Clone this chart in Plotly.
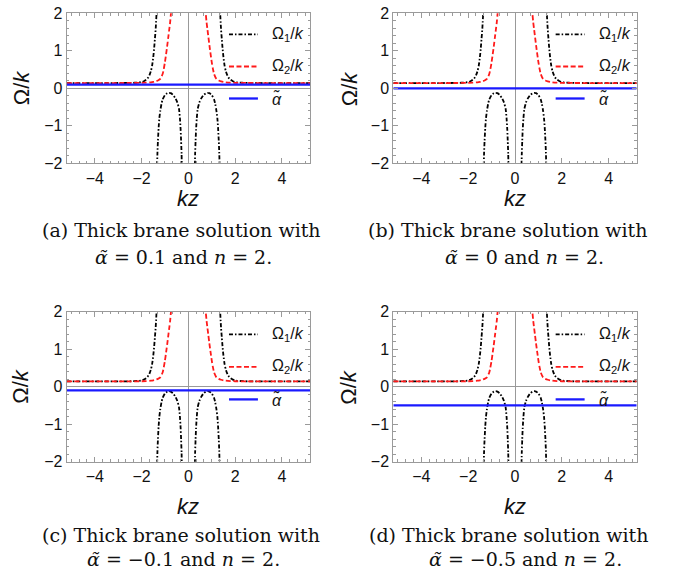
import plotly.graph_objects as go

# ---------------- data ----------------
kz_range = [-5.2, 5.2]
omega_range = [-2, 2]
alpha_values = [0.1, 0.0, -0.1, -0.5]
panel_letters = ["a", "b", "c", "d"]
alpha_labels = ["0.1", "0", "−0.1", "−0.5"]
x_tick_vals = [-4, -2, 0, 2, 4]
y_tick_vals = [-2, -1, 0, 1, 2]
legend_names = ["Ω<sub>1</sub>/<i>k</i>", "Ω<sub>2</sub>/<i>k</i>", "<i>α̃</i>"]

# Omega_1/k, upper branches
om1_up_left_x = [-5.2, -4.5, -4.0, -3.5, -3.0, -2.6, -2.3, -2.1, -2.0, -1.9, -1.8, -1.75,
                 -1.7, -1.65, -1.6, -1.55, -1.5, -1.46, -1.43, -1.40, -1.38, -1.36, -1.34]
om1_up_left_y = [0.14, 0.14, 0.14, 0.14, 0.141, 0.143, 0.148, 0.156, 0.165, 0.19, 0.23, 0.26,
                 0.30, 0.37, 0.46, 0.60, 0.83, 1.08, 1.32, 1.55, 1.76, 2.0, 2.2]
om1_up_right_x = [1.34, 1.36, 1.38, 1.40, 1.43, 1.46, 1.5, 1.55, 1.6, 1.65, 1.7, 1.75,
                  1.8, 1.9, 2.0, 2.1, 2.3, 2.6, 3.0, 3.5, 4.0, 4.5, 5.2]
om1_up_right_y = [2.2, 2.0, 1.76, 1.55, 1.32, 1.08, 0.83, 0.60, 0.46, 0.37, 0.30, 0.26,
                  0.23, 0.19, 0.165, 0.156, 0.148, 0.143, 0.141, 0.14, 0.14, 0.14, 0.14]

# Omega_1/k, lower humps
om1_low_left_x = [-1.335, -1.32, -1.30, -1.27, -1.24, -1.2, -1.15, -1.1, -1.0, -0.9, -0.83,
                  -0.75, -0.65, -0.55, -0.47, -0.40, -0.36, -0.33, -0.31, -0.29, -0.28]
om1_low_left_y = [-2.05, -1.7, -1.4, -1.05, -0.8, -0.6, -0.42, -0.3, -0.18, -0.13, -0.12,
                  -0.13, -0.18, -0.27, -0.38, -0.55, -0.8, -1.1, -1.4, -1.75, -2.05]
om1_low_right_x = [0.28, 0.29, 0.31, 0.33, 0.36, 0.40, 0.47, 0.55, 0.65, 0.75, 0.83,
                   0.9, 1.0, 1.1, 1.15, 1.2, 1.24, 1.27, 1.30, 1.32, 1.335]
om1_low_right_y = [-2.05, -1.75, -1.4, -1.1, -0.8, -0.55, -0.38, -0.27, -0.18, -0.13, -0.12,
                   -0.13, -0.18, -0.3, -0.42, -0.6, -0.8, -1.05, -1.4, -1.7, -2.05]

# Omega_2/k branches
om2_left_x = [-5.2, -4.0, -3.0, -2.5, -2.0, -1.8, -1.6, -1.5, -1.4, -1.3, -1.2, -1.1,
              -1.05, -1.0, -0.95, -0.9, -0.86, -0.82, -0.78, -0.75, -0.72]
om2_left_y = [0.14, 0.14, 0.14, 0.142, 0.146, 0.15, 0.16, 0.17, 0.185, 0.21, 0.25, 0.38,
              0.52, 0.70, 0.92, 1.15, 1.35, 1.55, 1.75, 1.95, 2.15]
om2_right_x = [0.72, 0.75, 0.78, 0.82, 0.86, 0.9, 0.95, 1.0, 1.05, 1.1, 1.2, 1.3,
               1.4, 1.5, 1.6, 1.8, 2.0, 2.5, 3.0, 4.0, 5.2]
om2_right_y = [2.15, 1.95, 1.75, 1.55, 1.35, 1.15, 0.92, 0.70, 0.52, 0.38, 0.25, 0.21,
               0.185, 0.17, 0.16, 0.15, 0.146, 0.142, 0.14, 0.14, 0.14]

# ---------------- styling / layout ----------------
W, H = 684, 575
BLACK_DASH = "4px,2px,1.5px,2px"
RED_DASH = "5px,2.5px"
FRAME = "#9a9a9a"
RED = "#ff1a1a"
BLUE = "#1a1aff"
LW_BLACK, LW_RED, LW_BLUE = 1.8, 1.8, 2.3

# panel frames in window pixels: (left, right, top, bottom)
frames = [(66.7, 310.0, 13.3, 163.3), (393.3, 636.7, 13.3, 163.3),
          (66.7, 310.0, 311.7, 461.7), (393.3, 636.7, 311.7, 461.7)]
ylabel_x = [21, 349, 21, 349]
kz_y = [198, 198, 506, 506]
cap1 = [(181, 230.5), (507, 230.5), (181, 535), (508, 535)]
cap2 = [(183, 257), (524, 257), (183, 559), (525, 559)]
legend_rows = [[34.3, 66.5, 98.5], [34.3, 66.5, 98.5], [36, 68.5, 101], [36, 68.5, 101]]


def px(x):
    return x / W


def py(y):
    return 1 - y / H


fig = go.Figure()
layout = dict(width=W, height=H, margin=dict(l=0, r=0, t=0, b=0, pad=0),
              paper_bgcolor="white", plot_bgcolor="white", showlegend=False)
annotations = []
shapes = []

for i in range(4):
    sfx = "" if i == 0 else str(i + 1)
    xa, ya = "x" + sfx, "y" + sfx
    L, R, T, B = frames[i]
    common = dict(showgrid=False, zeroline=True, zerolinecolor="#999999", zerolinewidth=1,
                  showline=True, linecolor=FRAME, linewidth=1, mirror="ticks",
                  ticks="inside", ticklen=5, tickcolor=FRAME, tickwidth=1, automargin=False,
                  tickfont=dict(family="Liberation Sans", size=16, color="#111"))
    layout["xaxis" + sfx] = dict(common, domain=[px(L), px(R)], range=kz_range, anchor=ya,
                                 tickvals=x_tick_vals,
                                 minor=dict(ticks="inside", ticklen=2.5, tickcolor=FRAME,
                                            dtick=1 / 3, tick0=0))
    layout["yaxis" + sfx] = dict(common, domain=[py(B), py(T)], range=omega_range, anchor=xa,
                                 tickvals=y_tick_vals,
                                 minor=dict(ticks="inside", ticklen=2.5, tickcolor=FRAME,
                                            dtick=0.2, tick0=0))

    # curves
    for cx, cy in [(om1_up_left_x, om1_up_left_y), (om1_up_right_x, om1_up_right_y),
                   (om1_low_left_x, om1_low_left_y), (om1_low_right_x, om1_low_right_y)]:
        fig.add_trace(go.Scatter(x=cx, y=cy, mode="lines", name="Ω1/k", xaxis=xa, yaxis=ya,
                                 line=dict(color="black", width=LW_BLACK, dash=BLACK_DASH,
                                           shape="spline", smoothing=0.6)))
    for cx, cy in [(om2_left_x, om2_left_y), (om2_right_x, om2_right_y)]:
        fig.add_trace(go.Scatter(x=cx, y=cy, mode="lines", name="Ω2/k", xaxis=xa, yaxis=ya,
                                 line=dict(color=RED, width=LW_RED, dash=RED_DASH,
                                           shape="spline", smoothing=0.6)))
    fig.add_trace(go.Scatter(x=kz_range, y=[alpha_values[i], alpha_values[i]], mode="lines",
                             name="α̃", xaxis=xa, yaxis=ya,
                             line=dict(color=BLUE, width=LW_BLUE)))

    # legend (drawn in axis-domain coordinates)
    styles = [("black", LW_BLACK, BLACK_DASH), (RED, LW_RED, RED_DASH), (BLUE, LW_BLUE, "solid")]
    for r, (col, wdt, dsh), name in zip(legend_rows[i], styles, legend_names):
        yy = (B - (T + r - 13.3)) / (B - T)
        shapes.append(dict(type="line", xref=xa + " domain", yref=ya + " domain",
                           x0=0.667, x1=0.786, y0=yy, y1=yy,
                           line=dict(color=col, width=wdt, dash=dsh)))
        annotations.append(dict(text=name, xref=xa + " domain", yref=ya + " domain",
                                x=0.836, y=yy, xanchor="left", yanchor="middle",
                                showarrow=False,
                                font=dict(family="Liberation Sans", size=16, color="#111")))

    # axis titles
    annotations.append(dict(text="Ω/<i>k</i>", xref="paper", yref="paper",
                            x=px(ylabel_x[i]), y=py((T + B) / 2), textangle=-90,
                            xanchor="center", yanchor="middle", showarrow=False,
                            font=dict(family="Liberation Sans", size=22, color="#111")))
    annotations.append(dict(text="<i>kz</i>", xref="paper", yref="paper",
                            x=px((L + R) / 2), y=py(kz_y[i]),
                            xanchor="center", yanchor="middle", showarrow=False,
                            font=dict(family="Liberation Sans", size=22, color="#111")))
    # captions
    annotations.append(dict(text="(" + panel_letters[i] + ") Thick brane solution with",
                            xref="paper", yref="paper", x=px(cap1[i][0]), y=py(cap1[i][1]),
                            xanchor="center", yanchor="middle", showarrow=False,
                            font=dict(family="DejaVu Serif", size=19, color="#111")))
    annotations.append(dict(text="<i>α̃</i> = " + alpha_labels[i] + " and <i>n</i> = 2.",
                            xref="paper", yref="paper", x=px(cap2[i][0]), y=py(cap2[i][1]),
                            xanchor="center", yanchor="middle", showarrow=False,
                            font=dict(family="DejaVu Serif", size=19, color="#111")))

layout["annotations"] = annotations
layout["shapes"] = shapes
fig.update_layout(**layout)
# remove the browser's default 8px page margin so the figure fills the window
fig.write_html("out.html", config={"displayModeBar": False},
               post_script="document.body.style.margin='0';document.body.style.overflow='hidden';")
